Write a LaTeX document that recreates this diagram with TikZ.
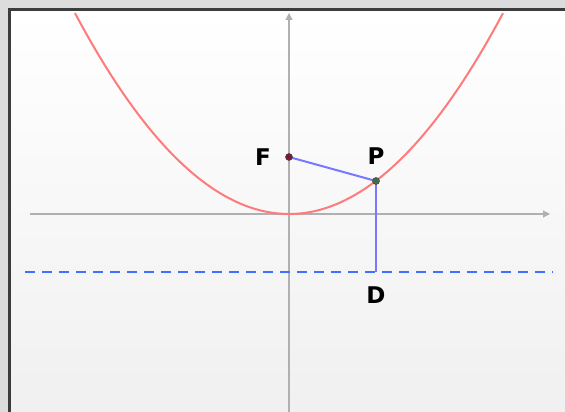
\documentclass[tikz,border=0pt]{standalone}
\usepackage{fontspec}
\setmainfont{DejaVu Sans}
\usetikzlibrary{arrows.meta}
\definecolor{outerbg}{HTML}{DCDCDC}
\definecolor{framec}{HTML}{3C3C3C}
\definecolor{bgbot}{HTML}{F0F0F0}
\definecolor{axisc}{HTML}{B0B0B0}
\definecolor{parac}{HTML}{FF7A7A}
\definecolor{segc}{HTML}{7878FF}
\definecolor{dirc}{HTML}{4070FF}
\definecolor{fdot}{HTML}{7A1838}
\definecolor{pdot}{HTML}{3E6E4A}
\tikzset{
  axisline/.style={draw=axisc, line width=1.1pt, -{Triangle[length=7pt,width=7pt]}},
  seg/.style={draw=segc, line width=2pt},
  dirline/.style={draw=dirc, line width=2.2pt, dash pattern=on 10pt off 7pt},
  lbl/.style={font=\bfseries\fontsize{23}{23}\selectfont, text=black, inner sep=0pt},
  ptdot/.style={circle, inner sep=0pt, minimum size=7pt, draw=black!70, line width=0.6pt}
}
\begin{document}
\begin{tikzpicture}[x=1pt,y=-1pt]
\useasboundingbox (0,0) rectangle (565,412);
\fill[outerbg] (0,0) rectangle (565,412);
\shade[top color=white, bottom color=bgbot] (10,10) rectangle (565,412);
\draw[framec, line width=2.6pt] (9.3,412) -- (9.3,9.3) -- (565,9.3);
% axes
\coordinate (xl) at (30,214);
\coordinate (xr) at (550,214);
\coordinate (yb) at (289,412);
\coordinate (yt) at (289,13);
\draw[axisline] (xl) -- (xr);
\draw[axisline] (yb) -- (yt);
% directrix
\coordinate (dl) at (25,272);
\coordinate (dr) at (553,272);
\draw[dirline] (dl) -- (dr);
% parabola
\draw[parac, line width=2pt] plot[domain=-214:214, samples=120, smooth] ({\x+289},{214-\x*(\x/228)});
% points
\coordinate (F) at (289,157);
\coordinate (P) at (376,181);
\coordinate (D) at (376,272);
\draw[seg] (F) -- (P);
\draw[seg] (P) -- (D);
\node[ptdot, fill=fdot] (Fd) at (F) {};
\node[ptdot, fill=pdot] (Pd) at (P) {};
\node[lbl] (Fl) at (263,157) {F};
\node[lbl] (Pl) at (376,156) {P};
\node[lbl] (Dl) at (376,295) {D};
\end{tikzpicture}
\end{document}
